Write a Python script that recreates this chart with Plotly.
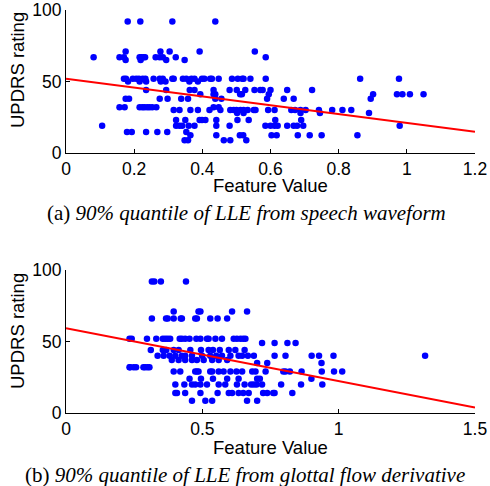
import plotly.graph_objects as go

# ---------------- Data: panel (a) speech waveform ----------------
a_levels = [92, 71, 67, 65, 52, 50, 44, 41, 38, 32, 30, 28, 23, 19, 14.7, 12.5, 9]
a_x_by_level = [
    [0.181, 0.218, 0.312, 0.438],
    [0.175, 0.277, 0.304, 0.392, 0.554],
    [0.081, 0.157, 0.170, 0.216, 0.221, 0.227, 0.232, 0.263, 0.275, 0.284, 0.322, 0.586],
    [0.175, 0.219, 0.294, 0.348],
    [0.170, 0.176, 0.196, 0.206, 0.214, 0.225, 0.233, 0.257, 0.275, 0.284, 0.312, 0.316,
     0.343, 0.353, 0.368, 0.377, 0.399, 0.406, 0.423, 0.428, 0.448, 0.487, 0.504, 0.517,
     0.521, 0.541, 0.586, 0.863, 0.977],
    [0.182, 0.216, 0.235, 0.278, 0.292, 0.362, 0.387],
    [0.235, 0.294, 0.363, 0.377, 0.433, 0.480, 0.501, 0.526, 0.553, 0.570, 0.577, 0.600,
     0.649, 0.722],
    [0.394, 0.433, 0.438, 0.511, 0.516, 0.595, 0.901, 0.971, 0.987, 1.009, 1.049],
    [0.175, 0.185, 0.275, 0.298, 0.338, 0.358, 0.438, 0.456, 0.590, 0.639, 0.668, 0.894],
    [0.157, 0.172, 0.216, 0.224, 0.230, 0.238, 0.245, 0.253, 0.265, 0.433, 0.448],
    [0.316, 0.333, 0.365, 0.387, 0.421, 0.453, 0.482, 0.492, 0.500, 0.512, 0.521, 0.533,
     0.551, 0.556, 0.593, 0.612, 0.661, 0.672, 0.688, 0.703, 0.742, 0.781, 0.811, 0.837],
    [0.502, 0.521, 0.688, 0.745, 0.889],
    [0.323, 0.350, 0.392, 0.399, 0.409, 0.441, 0.503, 0.536, 0.614, 0.690],
    [0.106, 0.323, 0.333, 0.341, 0.360, 0.377, 0.441, 0.480, 0.585, 0.600, 0.612, 0.621,
     0.649, 0.668, 0.678, 0.696, 0.979],
    [0.179, 0.193, 0.235, 0.268, 0.297, 0.353],
    [0.365, 0.441, 0.510, 0.520, 0.603, 0.618, 0.680, 0.715, 0.750, 0.855],
    [0.348, 0.358, 0.463, 0.482, 0.529],
]
a_fit_x = [0, 1.2]
a_fit_y = [52, 14.9]

# ---------------- Data: panel (b) glottal flow derivative ----------------
b_levels = [92, 71, 66, 52, 49, 44, 40, 37, 35, 32, 29, 24, 20, 14, 8.6]
b_x_by_level = [
    [0.315, 0.324, 0.348, 0.440],
    [0.395, 0.486, 0.493, 0.609, 0.664],
    [0.315, 0.367, 0.373, 0.395, 0.421, 0.425, 0.474, 0.480, 0.529, 0.556, 0.591],
    [0.233, 0.241, 0.297, 0.331, 0.355, 0.364, 0.373, 0.382, 0.417, 0.425, 0.437, 0.453,
     0.478, 0.493, 0.517, 0.523, 0.548, 0.572, 0.615, 0.627, 0.640, 0.650, 0.658],
    [0.719, 0.765, 0.812, 0.842],
    [0.311, 0.355, 0.368, 0.395, 0.413, 0.456, 0.495, 0.523, 0.539, 0.564, 0.597, 0.621,
     0.655],
    [0.336, 0.358, 0.380, 0.401, 0.425, 0.437, 0.462, 0.499, 0.529, 0.551, 0.572, 0.603,
     0.633, 0.646, 0.667, 0.689, 0.765, 0.805, 0.901, 0.928, 0.981, 1.317],
    [0.388, 0.413, 0.437, 0.462, 0.480, 0.505, 0.536, 0.560, 0.591],
    [0.701, 0.738, 0.937],
    [0.233, 0.235, 0.248, 0.257, 0.284, 0.290, 0.299, 0.306],
    [0.395, 0.419, 0.474, 0.480, 0.486, 0.529, 0.536, 0.560, 0.578, 0.603, 0.625, 0.646,
     0.683, 0.695, 0.732, 0.797, 0.805, 0.821, 0.864, 0.938, 0.983, 1.013],
    [0.453, 0.495, 0.539, 0.591, 0.633, 0.701, 0.711, 0.900],
    [0.401, 0.434, 0.462, 0.474, 0.493, 0.517, 0.560, 0.584, 0.627, 0.655, 0.679, 0.689,
     0.699, 0.719, 0.789, 0.862, 0.940],
    [0.401, 0.407, 0.437, 0.493, 0.556, 0.597, 0.609, 0.633, 0.650, 0.670, 0.723, 0.738,
     0.760, 0.765, 0.830],
    [0.462, 0.511, 0.536, 0.664, 0.701],
]
b_fit_x = [0, 1.5]
b_fit_y = [59.2, 3.8]

y_ticks = [0, 50, 100]
a_x_ticks = [0, 0.2, 0.4, 0.6, 0.8, 1, 1.2]
a_x_ticktext = ["0", "0.2", "0.4", "0.6", "0.8", "1", "1.2"]
b_x_ticks = [0, 0.5, 1, 1.5]
b_x_ticktext = ["0", "0.5", "1", "1.5"]

caption_a = "(a) <i>90% quantile of LLE from speech waveform</i>"
caption_b = "(b) <i>90% quantile of LLE from glottal flow derivative</i>"


def flatten(levels, xs_by_level):
    xs, ys = [], []
    for lv, xs_l in zip(levels, xs_by_level):
        for x in xs_l:
            xs.append(x)
            ys.append(lv)
    return xs, ys


ax, ay = flatten(a_levels, a_x_by_level)
bx, by = flatten(b_levels, b_x_by_level)

W, H = 490, 486
fig = go.Figure()

marker = dict(color="#0000FF", size=6.5, line=dict(width=0))
fig.add_trace(go.Scatter(x=ax, y=ay, mode="markers", marker=marker, xaxis="x", yaxis="y",
                         cliponaxis=False, showlegend=False))
fig.add_trace(go.Scatter(x=a_fit_x, y=a_fit_y, mode="lines", line=dict(color="#FF0000", width=2),
                         xaxis="x", yaxis="y", showlegend=False))
fig.add_trace(go.Scatter(x=bx, y=by, mode="markers", marker=marker, xaxis="x2", yaxis="y2",
                         cliponaxis=False, showlegend=False))
fig.add_trace(go.Scatter(x=b_fit_x, y=b_fit_y, mode="lines", line=dict(color="#FF0000", width=2),
                         xaxis="x2", yaxis="y2", showlegend=False))

font_ax = dict(family="Liberation Sans, Arial, sans-serif", size=17.5, color="black")

def xaxis(rng, tv, tt, anchor):
    return dict(range=rng, tickvals=tv, ticktext=tt, domain=[66 / W, 475 / W], anchor=anchor,
                showline=True, linecolor="black", linewidth=1, mirror=False,
                ticks="inside", ticklen=4, tickcolor="black", showgrid=False, zeroline=False,
                tickfont=font_ax, fixedrange=True, automargin=False, ticklabelstandoff=0)

def yaxis(top_px, bot_px, anchor):
    return dict(range=[0, 100], tickvals=y_ticks, ticktext=[str(v) for v in y_ticks],
                domain=[1 - bot_px / H, 1 - top_px / H], anchor=anchor,
                showline=True, linecolor="black", linewidth=1, mirror=False,
                ticks="inside", ticklen=4, tickcolor="black", showgrid=False, zeroline=False,
                tickfont=font_ax, fixedrange=True, automargin=False, ticklabelstandoff=0)

fig.update_layout(
    width=W, height=H,
    margin=dict(l=0, r=0, t=0, b=0),
    paper_bgcolor="white", plot_bgcolor="white",
    xaxis=xaxis([0, 1.2], a_x_ticks, a_x_ticktext, "y"),
    yaxis=yaxis(10, 153, "x"),
    xaxis2=xaxis([0, 1.5], b_x_ticks, b_x_ticktext, "y2"),
    yaxis2=yaxis(270, 413, "x2"),
)

def ann(text, x_px, y_px, size, family, angle=0):
    return dict(text=text, x=x_px / W, y=1 - y_px / H, xref="paper", yref="paper",
                showarrow=False, xanchor="center", yanchor="middle", textangle=angle,
                font=dict(family=family, size=size, color="black"))

sans = "Liberation Sans, Arial, sans-serif"
serif = "Liberation Serif, Times New Roman, serif"
fig.update_layout(annotations=[
    ann("Feature Value", 270, 186, 18.5, sans),
    ann("UPDRS rating", 17, 70, 18.5, sans, -90),
    ann("Feature Value", 270, 447, 18.5, sans),
    ann("UPDRS rating", 17, 331, 18.5, sans, -90),
    ann(caption_a, 246, 213, 21, serif),
    ann(caption_b, 245, 475, 21, serif),
])

fig.write_html(
    "out.html",
    config={"displayModeBar": False},
    post_script="document.body.style.margin='0';document.body.style.overflow='hidden';",
)
